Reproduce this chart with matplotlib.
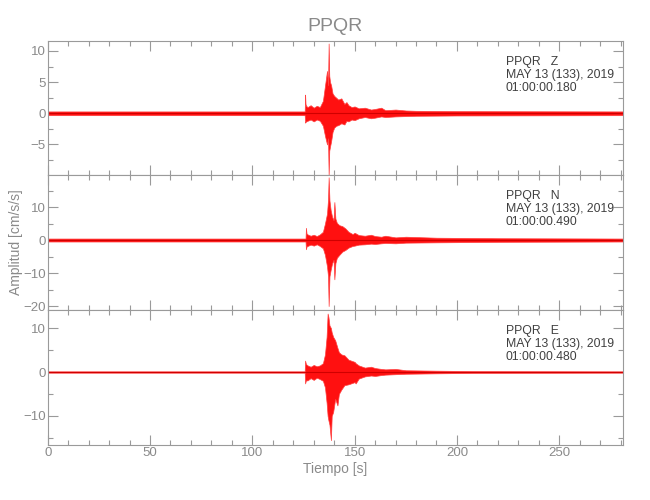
import matplotlib
matplotlib.use("Agg")
import matplotlib.pyplot as plt
from matplotlib.ticker import MultipleLocator

plt.rcParams['font.family'] = ['Liberation Sans', 'DejaVu Sans']

station = "PPQR"
components = ["Z", "N", "E"]
date_label = "MAY 13 (133), 2019"
start_times = ["01:00:00.180", "01:00:00.490", "01:00:00.480"]

# Envelopes (upper / lower amplitude, cm/s/s)
t_z = [0, 125.6, 125.8, 126.0, 126.3, 127, 128.5, 130, 131.5, 133, 134.5, 135.5, 136.5, 137.0, 137.3, 137.6, 138.0,
       138.5, 139.2, 140.0, 141, 142, 143.5, 145, 146, 147, 148.5, 150, 152, 155, 158, 160, 163, 165, 170, 175,
       180, 200, 281.3]
up_z = [0.3, 0.3, 3.0, 1.5, 1.2, 1.0, 1.3, 0.9, 1.2, 1.0, 2.0, 4.4, 6.8, 4.5, 11.2, 6.0, 5.0,
        4.5, 3.2, 2.8, 2.5, 2.2, 2.4, 1.5, 1.8, 1.3, 1.0, 1.1, 0.8, 0.9, 0.6, 0.7, 0.9, 0.5, 0.6, 0.45,
        0.4, 0.35, 0.3]
lo_z = [-0.3, -0.3, -1.5, -1.4, -1.3, -1.2, -1.0, -1.3, -1.0, -1.2, -2.0, -3.6, -5.0, -4.0, -10.0, -6.0, -5.3,
        -4.5, -3.0, -2.3, -2.0, -1.9, -1.6, -1.8, -1.2, -1.3, -1.0, -1.1, -0.8, -0.6, -0.8, -0.7, -0.5, -0.6, -0.5, -0.45,
        -0.4, -0.35, -0.3]

t_n = [0, 126.0, 126.2, 126.5, 127, 128.5, 130, 131.5, 133, 134.5, 135.5, 136.5, 137.0, 137.3, 137.7, 138.3, 139.0,
       139.7, 140.1, 140.6, 141.3, 142.5, 144, 145.5, 147, 149, 150, 152, 155, 158, 160, 163, 165, 170, 175,
       190, 220, 281.3]
up_n = [0.45, 0.45, 3.7, 2.0, 1.7, 1.3, 1.6, 1.2, 1.7, 2.5, 5.0, 8.0, 12.3, 19.0, 12.0, 9.0, 7.0,
        6.0, 11.5, 6.5, 5.2, 4.5, 4.2, 3.5, 2.5, 1.8, 2.2, 1.5, 1.3, 1.6, 1.2, 1.0, 1.3, 0.8, 1.0,
        0.7, 0.55, 0.45]
lo_n = [-0.45, -0.45, -2.8, -2.0, -1.8, -1.4, -1.7, -1.3, -1.8, -2.5, -4.5, -8.0, -11.0, -20.0, -11.0, -9.0, -7.0,
        -6.0, -11.9, -7.0, -5.4, -4.5, -3.5, -3.0, -2.3, -1.8, -1.7, -1.4, -1.3, -1.1, -1.2, -1.0, -0.9, -1.0, -0.8,
        -0.7, -0.55, -0.45]

t_e = [0, 125.6, 125.8, 126.2, 127, 128.5, 130, 131.5, 133, 134.5, 135.5, 136.3, 136.8, 137.2, 137.7, 138.4, 138.8,
       139.5, 140.5, 141.6, 142.3, 143.5, 145, 147, 150, 150.5, 152, 155, 158, 160, 163, 165, 170, 175,
       190, 210, 281.3]
up_e = [0.15, 0.15, 2.6, 1.8, 1.5, 1.2, 1.6, 1.3, 1.5, 2.0, 4.0, 8.0, 13.3, 12.5, 10.6, 10.0, 9.0,
        8.0, 7.2, 5.5, 4.5, 4.0, 3.8, 2.8, 2.3, 2.0, 1.5, 1.0, 1.2, 0.9, 0.7, 0.6, 0.7, 0.4,
        0.3, 0.2, 0.15]
lo_e = [-0.15, -0.15, -2.6, -1.9, -1.9, -1.4, -1.8, -1.3, -1.6, -2.0, -3.5, -7.0, -10.0, -11.0, -12.0, -15.5, -10.0,
        -9.1, -6.1, -7.6, -5.0, -4.0, -3.0, -2.8, -2.3, -2.6, -1.5, -1.0, -0.8, -0.9, -0.7, -0.6, -0.5, -0.4,
        -0.3, -0.2, -0.15]

traces = [(t_z, up_z, lo_z), (t_n, up_n, lo_n), (t_e, up_e, lo_e)]
ylims = [(-9.9, 11.6), (-21.2, 19.7), (-16.6, 14.1)]
ymajor = [5, 10, 10]
yminor = [2.5, 5, 5]
x_max = 281.3

gray = '#9a9a9a'
label_gray = '#8a8a8a'

fig = plt.figure(figsize=(6.5, 5), dpi=100)
left, right = 47.7 / 650, 623.3 / 650
tops = [41, 175, 310]
bots = [175, 310, 445]
axes = []
for i in range(3):
    b = 1 - bots[i] / 500
    h = (bots[i] - tops[i]) / 500
    ax = fig.add_axes([left, b, right - left, h])
    axes.append(ax)
    t, up, lo = traces[i]
    ax.fill_between(t, lo, up, color='#ff1010', linewidth=0.5, edgecolor='#ff4040')
    ax.plot([0, x_max], [0, 0], color='#d00000', linewidth=0.8)
    ax.set_xlim(0, x_max)
    ax.set_ylim(*ylims[i])
    ax.xaxis.set_major_locator(MultipleLocator(50))
    ax.xaxis.set_minor_locator(MultipleLocator(10))
    ax.yaxis.set_major_locator(MultipleLocator(ymajor[i]))
    ax.yaxis.set_minor_locator(MultipleLocator(yminor[i]))
    ax.tick_params(which='both', direction='in', top=True, right=True, color=gray,
                   labelcolor=label_gray, labelsize=9.5, width=0.8, pad=1.5)
    ax.tick_params(which='major', length=7)
    ax.tick_params(which='minor', length=3.5)
    for s in ax.spines.values():
        s.set_color(gray)
        s.set_linewidth(0.8)
    if i < 2:
        ax.tick_params(labelbottom=False)
    lines = [f"{station}   {components[i]}", date_label, start_times[i]]
    for k, txt in enumerate(lines):
        ax.text(0.796, 1 - (21 + 13 * k) / 134.7, txt, transform=ax.transAxes,
                ha='left', va='center', fontsize=8.8, color='#404040')

axes[0].set_title(station, color=label_gray, fontsize=14, pad=7)
axes[2].set_xlabel("Tiempo [s]", color=label_gray, fontsize=10, labelpad=2)
fig.text(0.025, 1 - 242 / 500, "Amplitud [cm/s/s]", rotation=90, ha='center', va='center',
         color=label_gray, fontsize=10)

fig.savefig("out.png", dpi=100)
